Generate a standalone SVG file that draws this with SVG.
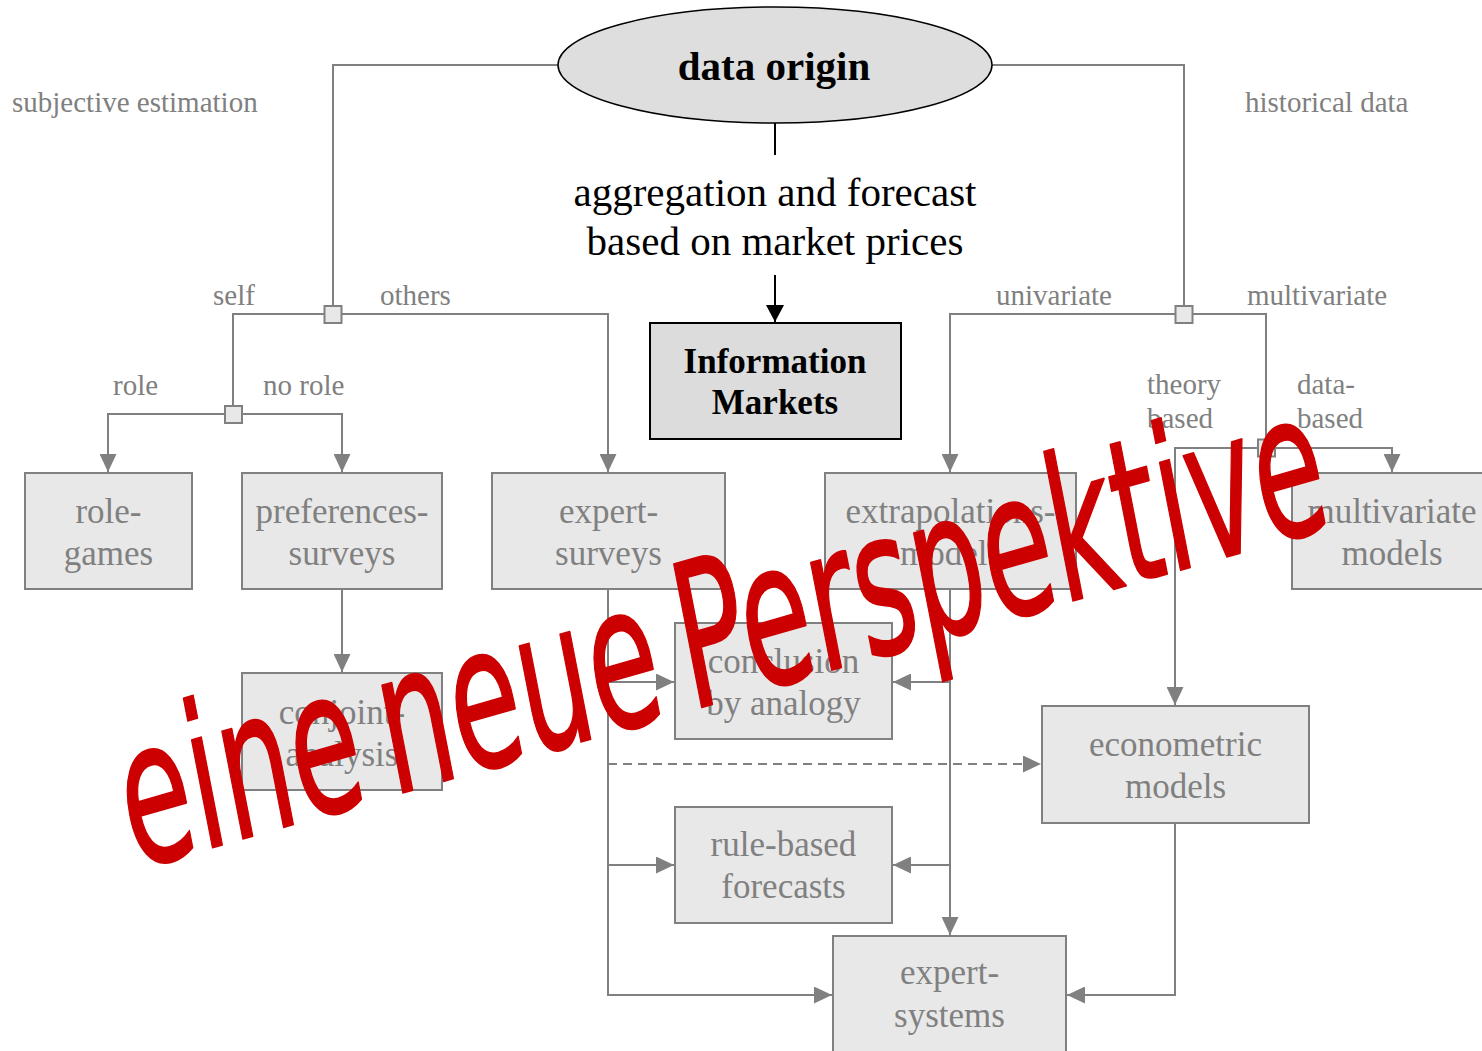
<svg xmlns="http://www.w3.org/2000/svg" width="1482" height="1051" viewBox="0 0 1482 1051">
<defs>
<marker id="ag" viewBox="0 0 18 17" refX="18" refY="8.5" markerWidth="18" markerHeight="17" markerUnits="userSpaceOnUse" orient="auto"><path d="M0,0 L18,8.5 L0,17 z" fill="#808080"/></marker>
<marker id="ab" viewBox="0 0 17 18" refX="17" refY="9" markerWidth="17" markerHeight="18" markerUnits="userSpaceOnUse" orient="auto"><path d="M0,0 L17,9 L0,18 z" fill="#000"/></marker>
<style>
.c{fill:none;stroke:#808080;stroke-width:2}
.ca{fill:none;stroke:#808080;stroke-width:2;marker-end:url(#ag)}
.dash{stroke-dasharray:9,6}
.bk{fill:none;stroke:#000;stroke-width:2}
.box{fill:#e8e8e8;stroke:#808080;stroke-width:2}
.sq{fill:#e8e8e8;stroke:#808080;stroke-width:2}
.nt{font-family:"Liberation Serif","Times New Roman",serif;font-size:35px;fill:#808080;text-anchor:middle}
.lb{font-family:"Liberation Serif","Times New Roman",serif;font-size:29px;fill:#808080}
.hd{font-family:"Liberation Serif","Times New Roman",serif;font-size:41px;fill:#000;text-anchor:middle}
.bt{font-family:"Liberation Serif","Times New Roman",serif;font-weight:bold;fill:#000;text-anchor:middle}
</style>
</defs>
<rect width="1482" height="1051" fill="#fff"/>
<g id="connectors">
<path class="c" d="M558,65 H333 V306"/>
<path class="c" d="M992,65 H1184 V306"/>
<path class="bk" d="M775,123 V155"/>
<path class="bk" d="M775,275 V322" marker-end="url(#ab)"/>
<path class="c" d="M233,406 V314 H325"/>
<path class="ca" d="M341,314 H608 V472"/>
<path class="ca" d="M225,414 H108 V472"/>
<path class="ca" d="M242,414 H342 V472"/>
<path class="ca" d="M1176,314 H950 V472"/>
<path class="c" d="M1192,314 H1266 V440"/>
<path class="ca" d="M1266,448 H1392 V472"/>
<path class="ca" d="M1266,448 H1175 V705"/>
<path class="ca" d="M342,590 V672"/>
<path class="ca" d="M608,590 V995 H832"/>
<path class="ca" d="M608,682 H674"/>
<path class="ca" d="M608,865 H674"/>
<path class="ca dash" d="M608,764 H1041"/>
<path class="ca" d="M950,590 V935"/>
<path class="ca" d="M950,682 H893"/>
<path class="ca" d="M950,865 H893"/>
<path class="ca" d="M1175,823 V995 H1067"/>
<rect class="sq" x="324.5" y="306" width="17" height="17"/>
<rect class="sq" x="225" y="406" width="17" height="17"/>
<rect class="sq" x="1175.5" y="306" width="17" height="17"/>
<rect class="sq" x="1258" y="439.5" width="17" height="17"/>
</g>
<g id="data-origin">
<ellipse cx="775" cy="65" rx="217" ry="58" fill="#dedede" stroke="#000" stroke-width="1.5"/>
<text class="bt" x="774" y="80" font-size="41">data origin</text>
</g>
<g id="heading">
<text class="hd" x="775" y="206">aggregation and forecast</text>
<text class="hd" x="775" y="255">based on market prices</text>
</g>
<g id="information-markets">
<rect x="650" y="323" width="251" height="116" fill="#dcdcdc" stroke="#000" stroke-width="2"/>
<text class="bt" x="775" y="373" font-size="35">Information</text>
<text class="bt" x="775" y="414" font-size="35">Markets</text>
</g>
<g id="role-games">
<rect class="box" x="25" y="473" width="167" height="116"/>
<text class="nt" x="108.5" y="523">role-</text>
<text class="nt" x="108.5" y="565">games</text>
</g>
<g id="preferences-surveys">
<rect class="box" x="242" y="473" width="200" height="116"/>
<text class="nt" x="342" y="523">preferences-</text>
<text class="nt" x="342" y="565">surveys</text>
</g>
<g id="expert-surveys">
<rect class="box" x="492" y="473" width="233" height="116"/>
<text class="nt" x="608.5" y="523">expert-</text>
<text class="nt" x="608.5" y="565">surveys</text>
</g>
<g id="extrapolations-models">
<rect class="box" x="825" y="473" width="251" height="116"/>
<text class="nt" x="950.5" y="523">extrapolations-</text>
<text class="nt" x="950.5" y="565">models</text>
</g>
<g id="multivariate-models">
<rect class="box" x="1292" y="473" width="202" height="116"/>
<text class="nt" x="1392" y="523">multivariate</text>
<text class="nt" x="1392" y="565">models</text>
</g>
<g id="conjoint-analysis">
<rect class="box" x="242" y="673" width="200" height="117"/>
<text class="nt" x="342" y="724">conjoint-</text>
<text class="nt" x="342" y="766">analysis</text>
</g>
<g id="conclusion-by-analogy">
<rect class="box" x="675" y="623" width="217" height="116"/>
<text class="nt" x="783.5" y="673">conclusion</text>
<text class="nt" x="783.5" y="715">by analogy</text>
</g>
<g id="rule-based-forecasts">
<rect class="box" x="675" y="807" width="217" height="116"/>
<text class="nt" x="783.5" y="856">rule-based</text>
<text class="nt" x="783.5" y="898">forecasts</text>
</g>
<g id="econometric-models">
<rect class="box" x="1042" y="706" width="267" height="117"/>
<text class="nt" x="1175.5" y="756">econometric</text>
<text class="nt" x="1175.5" y="798">models</text>
</g>
<g id="expert-systems">
<rect class="box" x="833" y="936" width="233" height="122"/>
<text class="nt" x="949.5" y="984">expert-</text>
<text class="nt" x="949.5" y="1027">systems</text>
</g>
<g id="labels">
<text class="lb" x="12" y="112">subjective estimation</text>
<text class="lb" x="1245" y="112">historical data</text>
<text class="lb" x="213" y="305">self</text>
<text class="lb" x="380" y="305">others</text>
<text class="lb" x="113" y="395">role</text>
<text class="lb" x="263" y="395">no role</text>
<text class="lb" x="996" y="305">univariate</text>
<text class="lb" x="1247" y="305">multivariate</text>
<text class="lb" x="1147" y="394">theory</text>
<text class="lb" x="1147" y="428">based</text>
<text class="lb" x="1297" y="394">data-</text>
<text class="lb" x="1297" y="428">based</text>
</g>
<g id="watermark">
<text x="0" y="0" transform="matrix(1.1055 -0.3169 0.3816 1.9632 134 870)" font-family="DejaVu Sans, sans-serif" font-size="100" word-spacing="-12" fill="#cc0000" stroke="#cc0000" stroke-width="1" stroke-linejoin="round">eine neue Perspektive</text>
</g>
</svg>
